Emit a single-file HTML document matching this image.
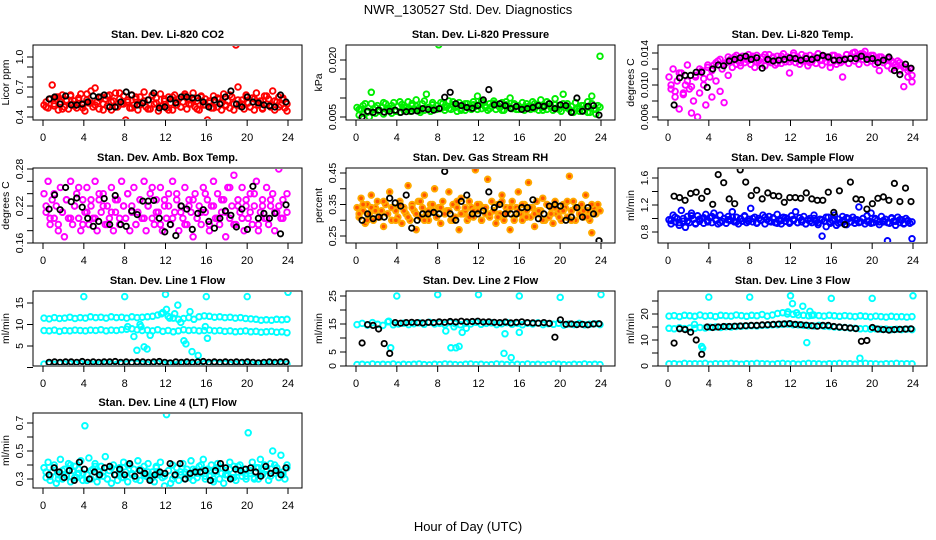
<!DOCTYPE html>
<html><head><meta charset="utf-8"><style>
html,body{margin:0;padding:0;background:#fff}
svg{display:block;font-family:"Liberation Sans",sans-serif}
</style></head><body>
<svg id="chart" width="936" height="540" viewBox="0 0 936 540">
<rect width="936" height="540" fill="#fff"/>
<text x="468" y="14" font-size="13" text-anchor="middle">NWR_130527  Std. Dev. Diagnostics</text>
<text x="468" y="531" font-size="13" text-anchor="middle">Hour of Day (UTC)</text>
</svg>
<script>
const xTicks = [0,4,8,12,16,20,24];
const co2Vals = [0.52,0.55,0.49,0.58,0.72,0.51,0.60,0.47,0.55,0.62,0.50,0.57,0.48,0.61,0.53,0.56,0.49,0.59,0.63,0.52,
0.46,0.57,0.54,0.66,0.50,0.69,0.55,0.48,0.60,0.53,0.58,0.51,0.62,0.47,0.56,0.64,0.50,0.58,0.53,0.61,
0.37,0.55,0.49,0.62,0.52,0.58,0.47,0.60,0.54,0.65,0.50,0.57,0.48,0.61,0.53,0.59,0.46,0.63,0.51,0.56,
0.49,0.60,0.54,0.47,0.62,0.52,0.58,0.50,0.55,0.61,0.48,0.57,0.53,0.64,0.50,0.56,0.47,0.60,0.52,0.58,
0.37,0.54,0.49,0.61,0.55,0.50,0.58,0.47,0.63,0.52,0.56,0.49,0.60,0.53,1.12,0.70,0.51,0.57,0.48,0.62,
0.54,0.50,0.59,0.47,0.64,0.52,0.56,0.49,0.61,0.53,0.58,0.50,0.66,0.47,0.55,0.60,0.52,0.57,0.49,0.46];
const co2ValsB = [0.50,0.58,0.53,0.60,0.48,0.56,0.62,0.51,0.57,0.49,0.63,0.54,0.52,0.59,0.47,0.61,0.55,0.50,0.64,0.53,0.57,0.49,0.60,0.52,0.56,0.48,0.62,0.54,0.51,0.58,0.47,0.60,0.55,0.50,0.63,0.53,0.57,0.48,0.61,0.52,0.56,0.49,0.59,0.54,0.51,0.62,0.47,0.57,0.53,0.60,0.50,0.58,0.55,0.48,0.61,0.52,0.56,0.50,0.59,0.53];
const co2Black = [0.58,0.60,0.53,0.61,0.52,0.52,0.53,0.55,0.61,0.60,0.62,0.50,0.50,0.55,0.65,0.62,0.52,0.54,0.57,0.64,0.49,0.50,0.58,0.54,0.60,0.60,0.59,0.59,0.55,0.50,0.57,0.53,0.60,0.66,0.53,0.50,0.60,0.55,0.54,0.52,0.51,0.50,0.62,0.55];
const presVals = [0.0075,0.0055,0.0070,0.0060,0.0085,0.0065,0.0050,0.0115,0.0070,0.0060,0.0080,0.0065,0.0075,0.0058,0.0085,0.0068,0.0072,0.0060,0.0088,0.0065,
0.0078,0.0062,0.0083,0.0068,0.0075,0.0090,0.0065,0.0080,0.0070,0.0095,0.0072,0.0062,0.0085,0.0068,0.0110,0.0075,0.0065,0.0088,0.0070,0.0080,
0.0240,0.0072,0.0085,0.0068,0.0078,0.0092,0.0070,0.0082,0.0075,0.0065,0.0088,0.0072,0.0080,0.0068,0.0085,0.0075,0.0070,0.0090,0.0078,0.0105,
0.0082,0.0072,0.0088,0.0075,0.0068,0.0085,0.0078,0.0092,0.0070,0.0080,0.0075,0.0088,0.0068,0.0082,0.0078,0.0100,0.0072,0.0085,0.0070,0.0080,
0.0250,0.0075,0.0068,0.0085,0.0078,0.0070,0.0090,0.0072,0.0082,0.0068,0.0095,0.0075,0.0080,0.0070,0.0085,0.0078,0.0068,0.0098,0.0072,0.0080,
0.0065,0.0110,0.0075,0.0085,0.0070,0.0078,0.0062,0.0088,0.0072,0.0065,0.0080,0.0068,0.0075,0.0090,0.0062,0.0105,0.0070,0.0058,0.0080,0.0210];
const presValsB = [0.0070,0.0080,0.0062,0.0085,0.0075,0.0068,0.0088,0.0072,0.0080,0.0065,0.0090,0.0075,0.0070,0.0085,0.0078,0.0068,0.0092,0.0075,0.0082,0.0070,0.0088,0.0076,0.0072,0.0090,0.0080,0.0068,0.0085,0.0075,0.0082,0.0070,0.0092,0.0078,0.0072,0.0086,0.0080,0.0068,0.0090,0.0075,0.0082,0.0070,0.0088,0.0076,0.0072,0.0085,0.0080,0.0068,0.0090,0.0075,0.0082,0.0070,0.0085,0.0078,0.0065,0.0088,0.0072,0.0080,0.0062,0.0085,0.0070,0.0076];
const presBlack = [0.0050,0.0065,0.0062,0.0068,0.0063,0.0065,0.0068,0.0062,0.0064,0.0065,0.0066,0.0072,0.0070,0.0068,0.0072,0.0102,0.0115,0.0085,0.0080,0.0075,0.0073,0.0080,0.0095,0.0122,0.0082,0.0085,0.0080,0.0072,0.0078,0.0070,0.0072,0.0075,0.0080,0.0078,0.0085,0.0072,0.0082,0.0080,0.0062,0.0100,0.0065,0.0078,0.0080,0.0055];
const tempVals = [0.0110,0.0095,0.0120,0.0085,0.0105,0.0070,0.0115,0.0090,0.0100,0.0125,0.0095,0.0065,0.0080,0.0110,0.0060,0.0090,0.0118,0.0100,0.0075,0.0122,
0.0110,0.0085,0.0125,0.0105,0.0130,0.0092,0.0120,0.0078,0.0128,0.0112,0.0132,0.0122,0.0135,0.0126,0.0130,0.0124,0.0136,0.0128,0.0132,0.0138,
0.0126,0.0134,0.0122,0.0137,0.0130,0.0127,0.0135,0.0124,0.0133,0.0138,0.0128,0.0134,0.0125,0.0136,0.0131,0.0127,0.0139,0.0129,0.0135,0.0115,
0.0132,0.0140,0.0128,0.0135,0.0126,0.0138,0.0130,0.0133,0.0124,0.0137,0.0129,0.0135,0.0127,0.0139,0.0131,0.0125,0.0136,0.0129,0.0134,0.0122,
0.0137,0.0130,0.0126,0.0135,0.0128,0.0110,0.0133,0.0138,0.0127,0.0135,0.0140,0.0130,0.0136,0.0126,0.0139,0.0132,0.0142,0.0128,0.0135,0.0130,
0.0137,0.0126,0.0133,0.0118,0.0135,0.0128,0.0131,0.0124,0.0133,0.0120,0.0128,0.0122,0.0130,0.0118,0.0125,0.0098,0.0122,0.0110,0.0120,0.0104];
const tempValsB = [0.0100,0.0092,0.0115,0.0088,0.0105,0.0098,0.0112,0.0120,0.0108,0.0125,0.0118,0.0128,0.0132,0.0126,0.0135,0.0130,0.0137,0.0128,0.0134,0.0131,0.0136,0.0129,0.0133,0.0138,0.0130,0.0135,0.0127,0.0136,0.0132,0.0129,0.0137,0.0133,0.0130,0.0136,0.0128,0.0134,0.0139,0.0131,0.0135,0.0128,0.0137,0.0133,0.0130,0.0138,0.0134,0.0141,0.0136,0.0139,0.0133,0.0137,0.0131,0.0135,0.0128,0.0133,0.0130,0.0126,0.0128,0.0122,0.0118,0.0112];
const tempBlack = [0.0075,0.0109,0.0112,0.0112,0.0116,0.0116,0.0097,0.0120,0.0125,0.0124,0.0130,0.0132,0.0134,0.0136,0.0132,0.0134,0.0121,0.0132,0.0130,0.0131,0.0132,0.0134,0.0133,0.0131,0.0133,0.0132,0.0134,0.0137,0.0135,0.0131,0.0131,0.0132,0.0133,0.0133,0.0136,0.0132,0.0133,0.0128,0.0131,0.0135,0.0118,0.0113,0.0126,0.0121];
const ambVals = [0.24,0.21,0.26,0.19,0.23,0.20,0.22,0.18,0.25,0.21,0.17,0.23,0.20,0.26,0.19,0.22,0.24,0.20,0.18,0.23,
0.21,0.25,0.19,0.22,0.20,0.26,0.18,0.23,0.21,0.24,0.19,0.22,0.20,0.25,0.18,0.21,0.23,0.19,0.26,0.22,
0.20,0.24,0.18,0.22,0.25,0.19,0.21,0.23,0.20,0.26,0.18,0.22,0.24,0.20,0.19,0.23,0.21,0.25,0.18,0.22,
0.20,0.24,0.19,0.26,0.21,0.23,0.18,0.22,0.20,0.25,0.19,0.23,0.21,0.17,0.24,0.20,0.22,0.19,0.25,0.21,
0.23,0.18,0.22,0.26,0.20,0.24,0.19,0.21,0.23,0.17,0.25,0.20,0.22,0.27,0.19,0.23,0.21,0.25,0.18,0.22,
0.20,0.24,0.19,0.22,0.26,0.18,0.21,0.23,0.20,0.25,0.19,0.22,0.24,0.18,0.21,0.28,0.20,0.23,0.15,0.21];
const ambValsB = [0.22,0.20,0.24,0.19,0.21,0.23,0.20,0.22,0.25,0.19,0.21,0.23,0.20,0.24,0.22,0.19,0.21,0.23,0.20,0.22,0.24,0.21,0.19,0.23,0.20,0.22,0.25,0.21,0.19,0.23,0.22,0.20,0.24,0.21,0.19,0.22,0.23,0.20,0.21,0.24,0.19,0.22,0.20,0.23,0.21,0.25,0.19,0.22,0.20,0.23,0.21,0.24,0.19,0.22,0.20,0.23,0.21,0.22,0.20,0.24];
const ambBlack = [0.215,0.238,0.214,0.250,0.227,0.233,0.218,0.200,0.187,0.195,0.232,0.190,0.237,0.190,0.187,0.212,0.206,0.228,0.228,0.229,0.200,0.178,0.190,0.172,0.220,0.215,0.182,0.208,0.214,0.195,0.184,0.200,0.212,0.205,0.186,0.215,0.182,0.252,0.200,0.208,0.200,0.208,0.175,0.222];
const rhVals = [0.34,0.31,0.37,0.33,0.29,0.35,0.32,0.38,0.30,0.34,0.36,0.31,0.33,0.28,0.35,0.32,0.39,0.30,0.34,0.33,
0.31,0.36,0.29,0.34,0.32,0.41,0.30,0.35,0.33,0.27,0.36,0.31,0.34,0.38,0.32,0.30,0.35,0.33,0.40,0.31,
0.34,0.29,0.36,0.32,0.33,0.39,0.30,0.35,0.31,0.34,0.27,0.37,0.32,0.33,0.30,0.36,0.34,0.31,0.46,0.33,
0.35,0.30,0.34,0.32,0.43,0.31,0.36,0.33,0.29,0.35,0.32,0.38,0.30,0.34,0.33,0.27,0.36,0.31,0.34,0.39,
0.32,0.30,0.35,0.33,0.42,0.31,0.34,0.28,0.36,0.32,0.33,0.37,0.30,0.35,0.31,0.34,0.29,0.36,0.32,0.33,
0.30,0.35,0.34,0.31,0.44,0.33,0.36,0.30,0.34,0.32,0.35,0.31,0.38,0.33,0.30,0.26,0.34,0.32,0.35,0.33];
const rhValsB = [0.32,0.35,0.30,0.34,0.33,0.31,0.36,0.32,0.34,0.30,0.35,0.33,0.31,0.34,0.32,0.36,0.30,0.33,0.35,0.31,0.34,0.32,0.33,0.30,0.36,0.32,0.34,0.31,0.33,0.35,0.30,0.34,0.32,0.33,0.31,0.36,0.32,0.34,0.30,0.33,0.35,0.31,0.34,0.32,0.33,0.30,0.35,0.32,0.34,0.31,0.33,0.36,0.30,0.34,0.32,0.33,0.31,0.35,0.32,0.33];
const rhBlack = [0.30,0.32,0.305,0.31,0.31,0.37,0.355,0.345,0.38,0.275,0.30,0.32,0.32,0.325,0.32,0.455,0.32,0.30,0.36,0.38,0.32,0.32,0.33,0.39,0.34,0.35,0.32,0.32,0.32,0.34,0.34,0.365,0.305,0.32,0.345,0.35,0.345,0.30,0.31,0.34,0.31,0.34,0.32,0.235];
const flowVals = [0.98,0.92,1.05,0.95,1.00,0.90,1.12,0.96,0.87,1.03,0.94,1.08,0.99,0.92,1.04,0.96,1.00,0.93,1.06,0.97,
1.01,0.94,1.08,0.98,0.92,1.05,0.96,1.00,0.93,1.03,0.97,1.10,0.95,1.02,0.92,1.00,0.96,1.04,0.94,0.99,
1.15,0.95,1.02,0.93,1.00,0.97,1.05,0.92,0.98,1.03,0.95,1.01,0.94,1.06,0.97,0.92,1.02,0.96,1.00,0.93,
1.04,0.97,1.10,0.94,1.01,0.95,1.03,0.92,0.98,1.00,0.94,1.05,0.96,0.91,0.99,0.74,0.96,0.88,1.02,0.93,
0.97,1.05,0.90,0.99,0.94,1.03,0.96,0.91,1.00,0.95,1.02,0.93,0.98,1.17,0.95,1.00,0.92,1.04,0.96,1.08,
0.94,1.00,0.97,0.91,1.03,0.95,0.99,0.67,0.93,1.01,0.96,0.90,1.02,0.94,0.98,0.92,1.00,0.96,0.93,0.70];
const flowValsB = [0.97,1.02,0.94,1.00,0.96,1.04,0.93,0.99,1.01,0.95,1.03,0.97,0.94,1.00,0.98,1.02,0.95,0.99,1.03,0.96,1.00,0.94,0.98,1.02,0.96,1.00,0.93,0.97,1.01,0.95,0.99,0.94,0.98,0.92,0.96,1.00,0.94,0.98,1.02,0.95,0.99,0.93,0.97,1.01,0.95,0.98,0.94,1.00,0.96,0.93,0.99,0.95,0.97,0.94,1.00,0.96,0.98,0.93,0.97,0.95];
const flowBlack = [1.33,1.31,1.27,1.37,1.39,1.30,1.40,1.21,1.65,1.53,1.29,1.22,1.72,1.54,1.34,1.42,1.29,1.38,1.34,1.33,1.24,1.31,1.31,1.30,1.38,1.29,1.27,1.27,1.39,1.09,1.41,0.91,1.54,1.29,1.28,1.14,1.22,1.30,1.32,1.27,1.52,1.25,1.45,1.25];
const line1Upper = [11.5,11.3,11.6,11.4,11.5,11.7,11.4,11.6,11.5,11.8,11.6,11.7,11.5,11.8,11.6,11.7,11.5,11.8,11.6,11.7,11.8,11.9,12.2,12.8,11.9,11.5,11.2,11.4,11.6,11.2,11.8,12.0,11.9,11.7,11.8,11.6,11.7,11.5,11.6,11.4,11.3,11.2,11.0,11.1,11.0,11.2,11.1,11.2];
const line1Lower = [8.6,8.5,8.7,8.4,8.6,8.5,8.7,8.6,8.5,8.7,8.6,8.8,8.5,8.7,8.6,8.8,8.9,9.0,8.8,8.6,8.7,8.5,8.8,8.4,8.6,8.3,8.5,8.8,8.6,8.7,8.5,8.6,8.7,8.5,8.6,8.4,8.5,8.3,8.4,8.5,8.3,8.4,8.2,8.3,8.4,8.2,8.3,8.1];
const line1Base = [0.8,0.9,0.7,1.0,0.8,0.9,0.8,1.0,0.7,0.9,0.8,0.9,1.0,0.8,0.7,0.9,0.8,1.0,0.9,0.8,0.7,0.9,1.0,0.8,0.9,0.7,0.8,1.0,0.9,0.8,0.7,0.9,0.8,1.0,0.8,0.9,0.7,0.8,1.0,0.9,0.8,0.7,0.9,0.8,1.0,0.8,0.9,0.8];
const line1OutHours = [4,8,12,16,20,24,8.9,9.2,9.6,9.9,10.2,10.5,11.6,12.1,12.4,12.9,13.2,13.5,13.8,14.0,14.4,14.6,15.2,15.9,16.1,8.3,9.5];
const line1OutVals = [16.5,16.5,17,16.5,16.5,17.5,7.2,4.0,9.5,4.8,4.3,7.5,12.5,13.5,11.5,12.5,14.5,10.5,6.2,5.5,13.0,3.7,2.8,9.5,6.8,9.5,10.0];
const line1Black = [1.2,1.3,1.2,1.3,1.3,1.2,1.4,1.2,1.3,1.2,1.3,1.3,1.4,1.2,1.3,1.2,1.3,1.3,1.2,1.3,1.4,1.2,1.1,1.3,1.2,1.3,1.2,1.3,1.4,1.2,1.3,1.2,1.3,1.2,1.3,1.2,1.3,1.2,1.1,1.2,1.3,1.2,1.3,1.3];
const line2Upper = [14.8,15.2,14.6,15.5,14.9,14.5,15.8,14.7,15.0,15.3,14.8,15.1,15.4,14.9,15.6,15.0,15.2,14.8,15.5,15.1,14.7,15.3,15.0,15.6,14.9,15.2,15.4,14.8,15.1,15.5,14.9,15.2,14.7,15.3,15.0,15.4,14.8,15.1,14.9,15.3,14.6,15.0,14.8,15.2,14.7,14.9,15.1,14.8];
const line2Base = [0.5,0.6,0.4,0.7,0.5,0.6,0.5,0.7,0.4,0.6,0.5,0.6,0.7,0.5,0.4,0.6,0.5,0.7,0.6,0.5,0.4,0.6,0.7,0.5,0.6,0.4,0.5,0.7,0.6,0.5,0.4,0.6,0.5,0.7,0.5,0.6,0.4,0.5,0.7,0.6,0.5,0.4,0.6,0.5,0.7,0.5,0.6,0.5];
const line2OutHours = [4,8,12,16,20,24,3.4,3.2,9.3,9.8,10.1,10.4,8.8,14.5,14.6,15.2,16.0,9.6,10.8];
const line2OutVals = [25,25.5,25.5,25,24.5,25.5,6.5,16,6.5,6.5,7,12,12.5,4.5,11.5,3,12,14,13.5];
const line2Black = [8.2,14.8,14.5,13.2,8.0,4.5,15.5,15.3,15.5,15.6,15.5,15.4,15.6,15.5,15.8,15.6,15.9,15.7,16.0,15.8,15.9,16.0,15.7,15.8,15.6,15.5,15.7,15.4,15.6,15.8,15.5,15.4,15.3,15.5,15.2,10.3,16.5,14.9,15.0,14.8,14.9,14.7,15.0,15.1];
const line3Upper = [19.2,19.4,19.0,19.5,19.3,19.1,19.6,19.2,19.4,19.0,19.5,19.3,19.2,19.6,19.4,19.1,19.5,19.3,19.8,19.2,19.6,20.2,20.5,20.8,19.9,19.6,19.5,19.3,19.6,19.4,19.2,19.5,19.3,19.1,19.4,19.2,19.0,19.3,19.1,18.9,19.2,19.0,18.8,19.1,18.9,19.0,18.8,19.0];
const line3Mid = [14.5,14.3,14.7,14.4,14.6,14.5,14.8,14.6,14.9,15.0,14.8,15.1,15.0,15.2,15.3,15.4,15.5,15.4,15.6,15.7,15.8,15.9,16.0,16.1,15.9,15.8,15.6,15.5,15.4,15.6,15.3,15.2,15.0,14.9,14.8,14.6,14.5,14.3,14.4,14.2,14.3,14.1,14.2,14.0,14.1,14.0,14.2,14.0];
const line3Base = [0.8,0.9,0.7,1.0,0.8,0.9,0.8,1.0,0.7,0.9,0.8,0.9,1.0,0.8,0.7,0.9,0.8,1.0,0.9,0.8,0.7,0.9,1.0,0.8,0.9,0.7,0.8,1.0,0.9,0.8,0.7,0.9,0.8,1.0,0.8,0.9,0.7,0.8,1.0,0.9,0.8,0.7,0.9,0.8,1.0,0.8,0.9,0.8];
const line3OutHours = [4,8,12,16,20,24,12.2,13.2,13.6,3.3,3.4,2.6,18.8,12.6,13.9,14.1,11.7];
const line3OutVals = [26.5,26.5,27,26,26,27,24,23,9,7.5,6.8,16,3,20.5,21,19.5,20];
const line3Black = [8.8,14.3,14.0,13.0,10.0,4.5,15.0,14.8,15.0,15.2,15.2,15.3,15.4,15.5,15.6,15.6,15.8,15.9,16.0,16.1,16.2,16.3,16.0,15.9,15.7,15.5,15.3,15.6,15.6,15.2,15.0,14.8,14.6,14.4,9.5,9.8,14.8,14.2,14.0,13.8,14.0,14.1,14.2,14.3];
const line4Vals = [0.38,0.31,0.42,0.29,0.35,0.40,0.27,0.33,0.44,0.30,0.37,0.32,0.41,0.28,0.36,0.39,0.31,0.34,0.43,0.29,
0.68,0.33,0.45,0.30,0.37,0.41,0.28,0.35,0.39,0.32,0.46,0.30,0.36,0.27,0.40,0.33,0.29,0.38,0.31,0.42,
0.35,0.28,0.40,0.33,0.37,0.30,0.43,0.29,0.36,0.39,0.32,0.41,0.30,0.35,0.28,0.38,0.33,0.42,0.31,0.25,
0.76,0.36,0.27,0.40,0.32,0.38,0.29,0.35,0.41,0.30,0.37,0.33,0.43,0.29,0.36,0.31,0.39,0.34,0.44,0.30,
0.37,0.32,0.40,0.28,0.35,0.41,0.30,0.38,0.27,0.36,0.33,0.42,0.31,0.39,0.29,0.35,0.40,0.32,0.37,0.30,
0.63,0.34,0.42,0.31,0.38,0.30,0.44,0.33,0.40,0.36,0.29,0.41,0.50,0.34,0.38,0.31,0.47,0.35,0.30,0.40];
const line4ValsB = [0.35,0.32,0.38,0.30,0.36,0.33,0.40,0.31,0.37,0.34,0.29,0.36,0.39,0.32,0.35,0.30,0.38,0.33,0.36,0.31,0.40,0.34,0.30,0.37,0.33,0.35,0.31,0.39,0.34,0.32,0.36,0.30,0.38,0.33,0.35,0.31,0.37,0.34,0.40,0.32,0.36,0.30,0.38,0.34,0.33,0.37,0.31,0.39,0.35,0.32,0.36,0.30,0.38,0.34,0.37,0.32,0.40,0.35,0.33,0.38];
const line4Black = [0.33,0.38,0.35,0.31,0.36,0.29,0.42,0.37,0.30,0.35,0.33,0.38,0.39,0.33,0.37,0.33,0.41,0.32,0.36,0.34,0.29,0.33,0.35,0.34,0.41,0.33,0.41,0.30,0.34,0.35,0.35,0.36,0.29,0.36,0.41,0.38,0.30,0.37,0.36,0.37,0.38,0.35,0.32,0.39,0.34,0.36,0.33,0.38];

const NS = 'http://www.w3.org/2000/svg';
const svg = document.getElementById('chart');
function mk(tag, attrs, parent){ const e=document.createElementNS(NS,tag); for(const k in attrs) e.setAttribute(k,attrs[k]); (parent||svg).appendChild(e); return e; }

const colX0 = [43, 356, 668];
const rowTop = [45, 168, 291, 413];
const xSpan = 245;

const panels = [
 {name:'co2', title:'Stan. Dev. Li-820 CO2', ylab:'Licor ppm', col:0,row:0, v0:0.4,p0:117,v1:1.0,p1:57, ticks:[0.4,0.5,0.6,0.7,0.8,0.9,1.0], labels:[0.4,0.7,1.0], dec:1, color:'#ff0000',
  series:[{v:co2Vals},{v:co2ValsB,s:0.3}], black:co2Black},
 {name:'pressure', title:'Stan. Dev. Li-820 Pressure', ylab:'kPa', col:1,row:0, v0:0.005,p0:117,v1:0.020,p1:60, ticks:[0.005,0.010,0.015,0.020], labels:[0.005,0.020], dec:3, color:'#00ee00',
  series:[{v:presVals},{v:presValsB,s:0.3}], black:presBlack},
 {name:'temp', title:'Stan. Dev. Li-820 Temp.', ylab:'degrees C', col:2,row:0, v0:0.006,p0:117,v1:0.014,p1:53, ticks:[0.006,0.008,0.010,0.012,0.014], labels:[0.006,0.010,0.014], dec:3, color:'#ff00ff',
  series:[{v:tempVals},{v:tempValsB,s:0.3}], black:tempBlack},
 {name:'amb-box-temp', title:'Stan. Dev. Amb. Box Temp.', ylab:'degrees C', col:0,row:1, v0:0.16,p0:243,v1:0.28,p1:169, ticks:[0.16,0.18,0.20,0.22,0.24,0.26,0.28], labels:[0.16,0.22,0.28], dec:2, color:'#ff00ff',
  series:[{v:ambVals},{v:ambValsB,s:0.3}], black:ambBlack},
 {name:'gas-rh', title:'Stan. Dev. Gas Stream RH', ylab:'percent', col:1,row:1, v0:0.25,p0:236,v1:0.45,p1:173, ticks:[0.25,0.30,0.35,0.40,0.45], labels:[0.25,0.35,0.45], dec:2, color:'#ffaa00', inner:'#ff5500',
  series:[{v:rhVals},{v:rhValsB,s:0.3}], black:rhBlack},
 {name:'sample-flow', title:'Stan. Dev. Sample Flow', ylab:'ml/min', col:2,row:1, v0:0.8,p0:232,v1:1.6,p1:178, ticks:[0.8,1.0,1.2,1.4,1.6], labels:[0.8,1.2,1.6], dec:1, color:'#0000ff',
  series:[{v:flowVals},{v:flowValsB,s:0.3}], black:flowBlack},
 {name:'line1-flow', title:'Stan. Dev. Line 1 Flow', ylab:'ml/min', col:0,row:2, v0:0,p0:367.5,v1:15,p1:303, ticks:[0,5,10,15], labels:[5,10,15], dec:0, color:'#00ffff',
  series:[{v:line1Upper},{v:line1Lower},{v:line1Base},{h:line1OutHours,v:line1OutVals}], black:line1Black},
 {name:'line2-flow', title:'Stan. Dev. Line 2 Flow', ylab:'ml/min', col:1,row:2, v0:0,p0:366,v1:25,p1:296, ticks:[0,5,10,15,20,25], labels:[0,5,15,25], dec:0, color:'#00ffff',
  series:[{v:line2Upper},{v:line2Base},{h:line2OutHours,v:line2OutVals}], black:line2Black},
 {name:'line3-flow', title:'Stan. Dev. Line 3 Flow', ylab:'ml/min', col:2,row:2, v0:0,p0:366,v1:20,p1:314, ticks:[0,5,10,15,20,25], labels:[0,10,20], dec:0, color:'#00ffff',
  series:[{v:line3Upper},{v:line3Mid},{v:line3Base},{h:line3OutHours,v:line3OutVals}], black:line3Black},
 {name:'line4-flow', title:'Stan. Dev. Line 4 (LT) Flow', ylab:'ml/min', col:0,row:3, v0:0.3,p0:479,v1:0.7,p1:423, ticks:[0.3,0.4,0.5,0.6,0.7], labels:[0.3,0.5,0.7], dec:1, color:'#00ffff',
  series:[{v:line4Vals},{v:line4ValsB,s:0.3}], black:line4Black}
];

panels.forEach(p=>{
  const g = mk('g',{});
  
  
  const x0 = colX0[p.col], top = rowTop[p.row], bottom = top+75;
  const left = x0-10, right = x0+xSpan+14;
  const xs = h => x0 + h*xSpan/24;
  const ys = v => p.p0 + (v-p.v0)*(p.p1-p.p0)/(p.v1-p.v0);
  const cx = (left+right)/2;
  const t = mk('text',{x:cx,y:top-7,'font-size':11,'font-weight':'bold','text-anchor':'middle'},g);
  t.textContent = p.title;
  
  
  const clipId = 'clip-'+p.name;
  const cp = mk('clipPath',{id:clipId},g);
  mk('rect',{x:left+1,y:top+1,width:right-left-2,height:73},cp);
  const pg = mk('g',{'clip-path':'url(#'+clipId+')'},g);
  p.series.forEach(s=>{
    const st = s.s || 0.1;
    s.v.forEach((val,i)=>{
      const h = s.h ? s.h[i] : st + i*(23.9-st)/(s.v.length-1);
      const c = mk('circle',{cx:xs(h).toFixed(1),cy:ys(val).toFixed(1),r:2.8,fill:p.inner||'none',stroke:p.color,'stroke-width':1.9},pg);
      
      
    });
  });
  p.black.forEach((val,i)=>{
    const h = 0.6 + i*23.2/(p.black.length-1);
    const c = mk('circle',{cx:xs(h).toFixed(1),cy:ys(val).toFixed(1),r:2.7,fill:'none',stroke:'#000','stroke-width':1.8},pg);
    
    
  });
  const box = mk('rect',{x:left,y:top,width:right-left,height:75,fill:'none',stroke:'#000','stroke-width':1},g);
  
  
  xTicks.forEach(h=>{
    mk('line',{x1:xs(h),x2:xs(h),y1:bottom,y2:bottom+6,stroke:'#000'},g);
    const l = mk('text',{x:xs(h),y:bottom+21,'font-size':11,'text-anchor':'middle'},g);
    l.textContent = h;
    
    
  });
  p.ticks.forEach(v=>{ mk('line',{x1:left-6,x2:left,y1:ys(v),y2:ys(v),stroke:'#000'},g); });
  p.labels.forEach(v=>{
    const y = ys(v);
    const l = mk('text',{x:0,y:0,'font-size':10.5,'text-anchor':'middle',transform:`translate(${left-10},${y}) rotate(-90)`},g);
    l.textContent = v.toFixed(p.dec);
    
    
  });
  const yl = mk('text',{x:0,y:0,'font-size':10.5,'text-anchor':'middle',transform:`translate(${left-24},${top+37.5}) rotate(-90)`},g);
  yl.textContent = p.ylab;
  
  
});
</script>
</body></html>
